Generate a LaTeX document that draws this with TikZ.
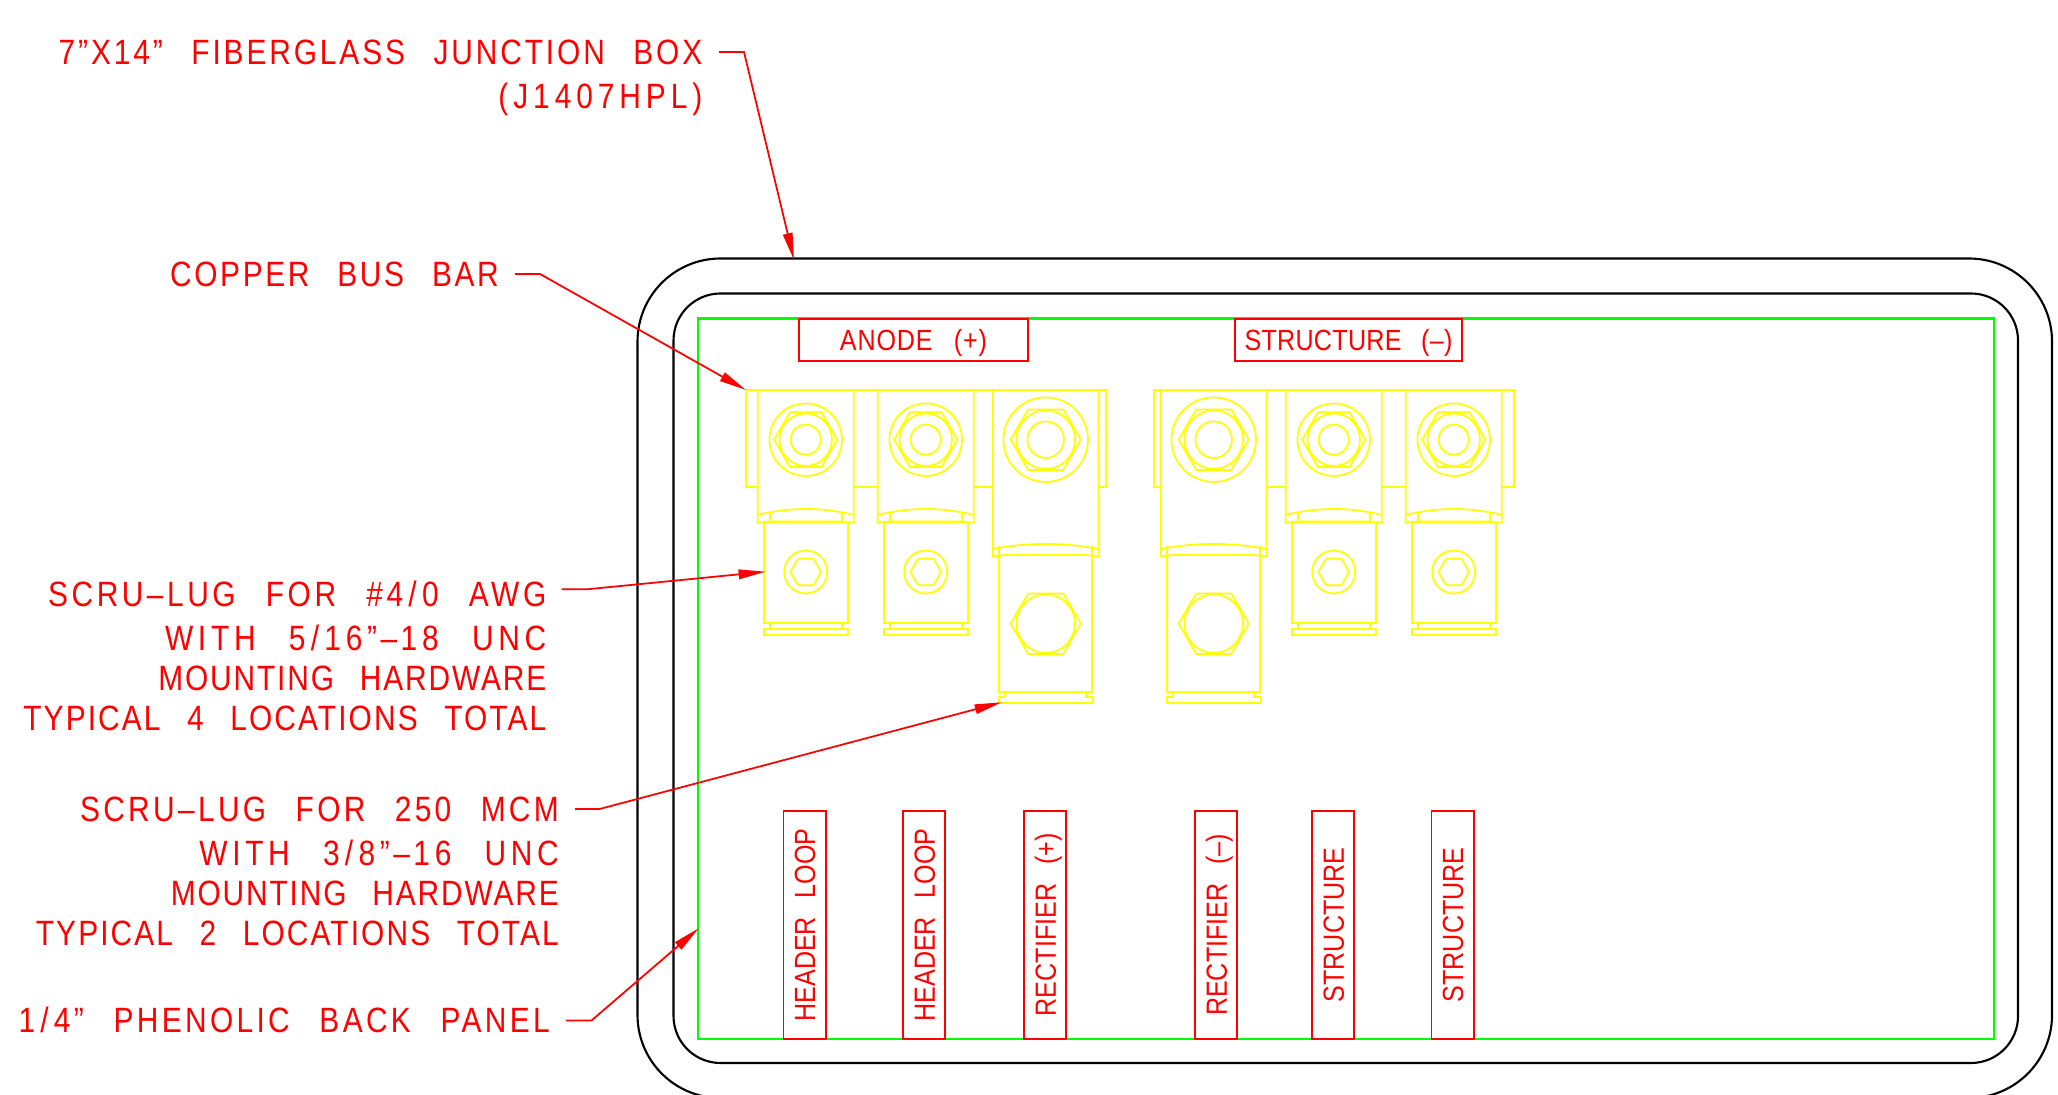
\documentclass[tikz,border=0pt]{standalone}
\usepackage{fontspec}
\newfontfamily\cadfont[FakeStretch=0.85,LetterSpace=6,WordSpace=2.55]{Liberation Sans}
\newfontfamily\tagfont[FakeStretch=0.86,WordSpace=2.7]{Liberation Sans}
\newcommand\spread[1]{\addfontfeature{LetterSpace=#1}}
\newcommand\cadslash{\kern1.5pt/\kern1.5pt}
\newcommand\caddash{\kern1pt–\kern1pt}
\usetikzlibrary{arrows.meta}
\tikzset{
  enclosure/.style={black,line width=.6pt,rounded corners=#1},
  panel/.style={green,line width=.6pt},
  lug/.style={yellow,line width=.5pt},
  lugbody/.style={lug,fill=white},
  note/.style={red,anchor=east,inner sep=0pt,text height=7.1pt,text depth=0pt,font=\fontsize{10}{12}\cadfont},
  tagbox/.style={draw=red,red,line width=.5pt,inner sep=0pt,text height=6pt,text depth=0pt,font=\fontsize{8.3}{10}\tagfont}
}
\tikzset{leader/.style={red,line width=.5pt,-{Triangle[length=7.7pt,width=2.7pt]}}}
\definecolor{red}{RGB}{255,0,0}
\definecolor{green}{RGB}{0,255,0}
\definecolor{yellow}{RGB}{255,255,0}
\begin{document}
\begin{tikzpicture}[x=.01cm,y=-.01cm]
\useasboundingbox (0,0) rectangle (2058,1095);

% box and back panel
\draw[enclosure=.83cm] (637.5,258.5) rectangle (2052,1098);
\draw[enclosure=.47cm] (673.5,293.5) rectangle (2018,1063);
\draw[panel] (698,318.5) rectangle (1994,1039);

% tags
\node[tagbox,minimum width=2.29cm,minimum height=.42cm] (anodetag) at (913.5,340) {\spread{3}ANODE\ (+)};
\node[tagbox,minimum width=2.27cm,minimum height=.42cm] (structtag) at (1348.5,340) {\spread{1}STRUCTURE\ (–)};
\foreach \n/\x/\t in {a/804.6/HEADER LOOP,b/924.2/HEADER LOOP,c/1045.2/RECTIFIER (+),d/1216.2/RECTIFIER (–),e/1333.3/STRUCTURE,f/1452.6/STRUCTURE}
  \node[tagbox,rotate=90,minimum width=2.283cm,minimum height=.42cm] (tag\n) at (\x,924.9) {\t};

% bus bars
\draw[lug] (746,390) rectangle (1106,487);
\draw[lug] (1153.7,390) rectangle (1514,487);

% small lugs
\foreach \cx in {805.7,925.7,1333.7,1453.7} {
\begin{scope}[shift={(\cx,0)}]
\draw[lugbody] (-48,390) -- (48,390) -- (48,523) -- (36,521.5) -- (-36,521.5) -- (-48,523) -- cycle;
\draw[lug] (-48,515) .. controls (-16,507) and (16,507) .. (48,515);
\draw[lug] (-36,512) -- (-36,522) (36,512) -- (36,522);
\draw[lug] (-42,522) rectangle (42,622.7);
\draw[lug] (-36,622.7) -- (-36,629) (36,622.7) -- (36,629);
\draw[lug] (-42,629) rectangle (42,635);
\draw[lug] (0,439.7) circle[radius=36.3] (0,439.7) circle[radius=26.3] (0,439.7) circle[radius=15];
\draw[lug,shift={(0,439.7)}] (0:31.6) -- (60:31.6) -- (120:31.6) -- (180:31.6) -- (240:31.6) -- (300:31.6) -- cycle;
\draw[lug] (0,572) circle[radius=21.5];
\draw[lug,shift={(0,572)}] (0:15.3) -- (60:15.3) -- (120:15.3) -- (180:15.3) -- (240:15.3) -- (300:15.3) -- cycle;
\end{scope}
}

% big lugs
\foreach \cx in {1045.7,1213.7} {
\begin{scope}[shift={(\cx,0)}]
\draw[lugbody] (-52.7,390) -- (52.7,390) -- (52.7,556.5) -- (40.4,555) -- (-40.4,555) -- (-52.7,556.5) -- cycle;
\draw[lug] (-52.7,549) .. controls (-18,542.3) and (18,542.3) .. (52.7,549);
\draw[lug] (-46.5,546) -- (-46.5,556) (46.5,546) -- (46.5,556);
\draw[lug] (-46.5,555.5) rectangle (46.5,692);
\draw[lug] (-40.4,692) -- (-40.4,696.7) -- (-47,696.7) -- (-47,702.7) -- (47,702.7) -- (47,696.7) -- (40.4,696.7) -- (40.4,692);
\draw[lug] (0,439.7) circle[radius=42.3] (0,439.7) circle[radius=29.3] (0,439.7) circle[radius=18.3];
\draw[lug,shift={(0,439.7)}] (0:35) -- (60:35) -- (120:35) -- (180:35) -- (240:35) -- (300:35) -- cycle;
\draw[lug] (0,623.7) circle[radius=29.3];
\draw[lug,shift={(0,623.7)}] (0:35) -- (60:35) -- (120:35) -- (180:35) -- (240:35) -- (300:35) -- cycle;
\end{scope}
}

% notes
\node[note] (boxnote) at (703,52) {\spread{8.2}7”X14” FIBERGLASS JUNCTION BOX};
\node[note] (boxpart) at (703,96.5) {\spread{14}(J1407HPL)};
\node[note] (barnote) at (499.5,274) {\spread{7.5}COPPER BUS BAR};
\node[note] (lugnote) at (547,594) {\spread{10.1}SCRU\caddash LUG FOR \#4\cadslash 0 AWG};
\node[note] (lugsize) at (547,638.5) {\spread{13.5}WITH 5\cadslash 16”\caddash 18 UNC};
\node[note] (lughard) at (547,678.5) {\spread{5.3}MOUNTING HARDWARE};
\node[note] (lugtyp) at (547,718.5) {TYPICAL 4 LOCATIONS TOTAL};
\node[note] (mcmnote) at (559.5,809) {\spread{9.3}SCRU\caddash LUG FOR 250 MCM};
\node[note] (mcmsize) at (559.5,853) {\spread{13.4}WITH 3\cadslash 8”\caddash 16 UNC};
\node[note] (mcmhard) at (559.5,893.5) {\spread{5.3}MOUNTING HARDWARE};
\node[note] (mcmtyp) at (559.5,933) {TYPICAL 2 LOCATIONS TOTAL};
\node[note] (panelnote) at (550.5,1020.5) {\spread{9.5}1\cadslash 4” PHENOLIC BACK PANEL};

% leaders
\coordinate (boxtip) at (794,260);
\coordinate (bartip) at (746,390);
\coordinate (lugtip) at (765.7,571.7);
\coordinate (mcmtip) at (1001.7,702.3);
\coordinate (paneltip) at (698.7,928.3);
\draw[leader] (boxnote.east) ++(16,0) -- ++(25,0) -- (boxtip);
\draw[leader] (barnote.east) ++(15.5,0) -- ++(25,0) -- (bartip);
\draw[leader] (lugnote.east) ++(14.6,-4.7) -- ++(25.4,0) -- (lugtip);
\draw[leader] (mcmnote.east) ++(15.5,0) -- ++(24.6,0) -- (mcmtip);
\draw[leader] (panelnote.east) ++(15.5,0) -- ++(25.5,0) -- (paneltip);
\end{tikzpicture}
\end{document}
